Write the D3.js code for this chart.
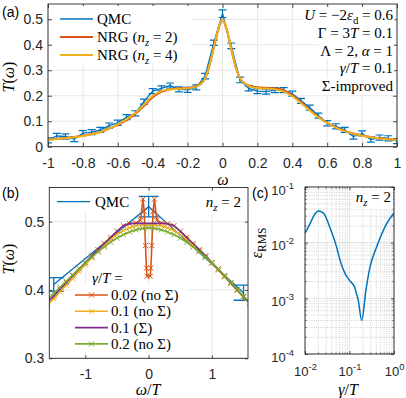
<!DOCTYPE html>
<html>
<head>
<meta charset="utf-8">
<script src="https://cdn.jsdelivr.net/npm/d3@7"></script>
<style>
  body { margin: 0; background: #fff; }
  svg { display: block; }
  text { white-space: pre; }
</style>
</head>
<body>
<div id="fig"></div>
<script>
// ---- data -------------------------------------------------------------
var T_temp = 0.1 / 3;   // Gamma = 3T = 0.1

// (a) QMC with error bars
var qmcW = [-1,-0.95,-0.9,-0.85,-0.8,-0.75,-0.7,-0.65,-0.6,-0.55,-0.5,-0.45,-0.4,-0.35,-0.3,-0.25,-0.2,-0.15,-0.1,-0.05,
            0,0.05,0.1,0.15,0.2,0.25,0.3,0.35,0.4,0.45,0.5,0.55,0.6,0.65,0.7,0.75,0.8,0.85,0.9,0.95,1];
var qmcT = [0.025,0.042,0.040,0.030,0.053,0.057,0.066,0.083,0.094,0.116,0.131,0.177,0.218,0.229,0.240,0.225,0.223,0.233,0.277,0.408,
            0.522,0.396,0.262,0.229,0.218,0.216,0.222,0.222,0.208,0.180,0.153,0.122,0.092,0.080,0.066,0.040,0.052,0.028,0.036,0.033,0.022];
var qmcErr = [0.010,0.010,0.010,0.010,0.010,0.010,0.010,0.010,0.010,0.010,0.010,0.010,0.010,0.010,0.010,0.010,0.010,0.010,0.011,0.010,
              0.015,0.011,0.011,0.010,0.010,0.010,0.010,0.010,0.010,0.010,0.010,0.010,0.010,0.010,0.010,0.010,0.010,0.010,0.010,0.010,0.010];

// (a) NRG curves
var nrgW = [-1,-0.95,-0.9,-0.85,-0.8,-0.75,-0.7,-0.65,-0.6,-0.55,-0.5,-0.45,-0.4,-0.35,-0.3,-0.25,-0.2,-0.15,-0.1,-0.075,-0.05,-0.025,
            0,0.025,0.05,0.075,0.1,0.15,0.2,0.25,0.3,0.35,0.4,0.45,0.5,0.55,0.6,0.65,0.7,0.75,0.8,0.85,0.9,0.95,1];
var nrg2 = [0.028,0.031,0.034,0.038,0.043,0.050,0.058,0.071,0.086,0.104,0.128,0.160,0.194,0.215,0.225,0.229,0.231,0.238,0.267,0.318,0.386,0.456,
            0.497,0.456,0.383,0.313,0.270,0.240,0.233,0.231,0.229,0.222,0.203,0.174,0.144,0.116,0.094,0.076,0.062,0.052,0.044,0.038,0.033,0.030,0.027];
var nrg4 = [0.027,0.030,0.033,0.037,0.042,0.049,0.057,0.072,0.088,0.108,0.132,0.165,0.200,0.218,0.225,0.227,0.229,0.236,0.267,0.320,0.390,0.460,
            0.500,0.460,0.386,0.315,0.270,0.238,0.230,0.228,0.225,0.217,0.198,0.171,0.142,0.115,0.093,0.075,0.061,0.051,0.043,0.037,0.033,0.029,0.026];

// (b) zoom around omega = 0, in units of T
var wT = [-1.6,-1.5,-1.4,-1.3,-1.2,-1.1,-1.0,-0.9,-0.8,-0.7,-0.6,-0.5,-0.4,-0.3,-0.2,-0.1,
          0,0.1,0.2,0.3,0.4,0.5,0.6,0.7,0.8,0.9,1.0,1.1,1.2,1.3,1.4,1.5,1.6];
var g01noS = [0.378,0.387,0.397,0.407,0.417,0.427,0.437,0.447,0.456,0.465,0.474,0.481,0.487,0.491,0.494,0.495,
              0.495,0.495,0.494,0.491,0.487,0.481,0.474,0.466,0.457,0.448,0.439,0.429,0.419,0.409,0.399,0.389,0.380];
var g01S   = [0.382,0.391,0.401,0.411,0.421,0.431,0.440,0.450,0.459,0.468,0.477,0.486,0.494,0.497,0.4975,0.4975,
              0.4975,0.4975,0.4975,0.497,0.494,0.486,0.477,0.468,0.459,0.450,0.440,0.430,0.420,0.410,0.400,0.390,0.381];
var g02noS = [0.386,0.395,0.404,0.413,0.422,0.431,0.440,0.448,0.456,0.463,0.470,0.476,0.481,0.485,0.488,0.490,
              0.491,0.490,0.488,0.485,0.481,0.476,0.470,0.463,0.456,0.448,0.440,0.431,0.421,0.411,0.401,0.391,0.381];
var g002W  = [-1.6,-1.5,-1.4,-1.3,-1.2,-1.1,-1.0,-0.9,-0.8,-0.7,-0.6,-0.5,-0.4,-0.3,-0.2,-0.13,-0.09,-0.07,-0.05,-0.035,-0.025,
              0.025,0.035,0.05,0.07,0.09,0.13,0.2,0.3,0.4,0.5,0.6,0.7,0.8,0.9,1.0,1.1,1.2,1.3,1.4,1.5,1.6];
var g002noS = [0.382,0.391,0.401,0.411,0.421,0.431,0.440,0.450,0.459,0.468,0.477,0.486,0.494,0.497,0.498,0.502,0.533,0.515,0.465,0.432,0.420,
               0.420,0.432,0.465,0.515,0.533,0.502,0.498,0.497,0.494,0.486,0.477,0.468,0.459,0.450,0.440,0.430,0.420,0.410,0.400,0.390,0.381];

// (c) RMS error vs gamma/T
var gamT = [0.01,0.013,0.016,0.02,0.026,0.036,0.051,0.061,0.079,0.1,0.13,0.144,0.157,0.188,0.234,0.29,0.41,0.685,1.0];
var epsRMS = [0.0148,0.022,0.031,0.037,0.034,0.019,0.0085,0.0049,0.0028,0.0021,0.0016,0.0012,0.00093,0.0004,0.0014,0.0037,0.0085,0.022,0.034];

var xTicksA = [-1,-0.8,-0.6,-0.4,-0.2,0,0.2,0.4,0.6,0.8,1];
var yTicksA = [0,0.1,0.2,0.3,0.4,0.5];
var xTicksB = [-1,0,1];
var yTicksB = [0.3,0.4,0.5];
var xTicksC = [0.01,0.1,1];
var yTicksC = [1e-4,1e-3,1e-2,1e-1];

// ---- style ------------------------------------------------------------
var C = { blue: "#0072BD", orange: "#D95319", yellow: "#EDB120", purple: "#7E2F8E", green: "#77AC30" };
var SANS = "'Liberation Sans', Arial, sans-serif";
var SERIF = "'Liberation Serif', 'DejaVu Serif', serif";
var GRID = "#e2e2e2";

var svg = d3.select("#fig").append("svg").attr("width", 406).attr("height", 398);

// tiny math-ish text: $...$ letters italic, _x / _{..} subscripts, ^ superscripts
function tex(sel, s) {
    var parts = [];
    s.split("$").forEach(function(seg, k) {
        if (k % 2 === 0) { if (seg) parts.push({ t: seg }); return; }
        var i = 0;
        while (i < seg.length) {
            var c = seg[i];
            if (c === "_" || c === "^") {
                var g, it;
                if (seg[i + 1] === "{") { var j = seg.indexOf("}", i); g = seg.slice(i + 2, j); i = j + 1; it = false; }
                else { g = seg[i + 1]; i += 2; it = /[A-Za-zα-ω]/.test(g); }
                parts.push({ t: g, i: it, sub: c === "_", sup: c === "^" });
                continue;
            }
            parts.push({ t: c, i: /[A-Za-zα-ω]/.test(c) });
            i++;
        }
    });
    var shift = 0;
    parts.forEach(function(p) {
        var s2 = p.sub ? 4 : p.sup ? -6 : 0;
        var ts = sel.append("tspan").text(p.t);
        if (s2 - shift !== 0) ts.attr("dy", s2 - shift);
        shift = s2;
        if (p.i) ts.attr("font-style", "italic");
        if (p.sub || p.sup) ts.attr("font-size", "0.72em");
    });
    return sel;
}

function whiteBehind(g, textSel, padX, padY) {
    var b = textSel.node().getBBox();
    g.insert("rect", function() { return textSel.node(); })
        .attr("x", b.x - padX).attr("y", b.y - padY)
        .attr("width", b.width + 2 * padX).attr("height", b.height + 2 * padY)
        .attr("fill", "#fff");
}

function boxAxes(g, x, y, tickLen, xt, yt, xfmt, yfmt, xpad, ypad) {
    var x0 = x.range()[0], x1 = x.range()[1], y0 = y.range()[0], y1 = y.range()[1];
    var bottom = g.append("g").attr("transform", "translate(0," + y0 + ")")
        .call(d3.axisBottom(x).tickValues(xt).tickSize(-tickLen).tickPadding(xpad).tickFormat(xfmt));
    var top = g.append("g").attr("transform", "translate(0," + y1 + ")")
        .call(d3.axisTop(x).tickValues(xt).tickSize(-tickLen).tickFormat(""));
    var left = g.append("g").attr("transform", "translate(" + x0 + ",0)")
        .call(d3.axisLeft(y).tickValues(yt).tickSize(-tickLen).tickPadding(ypad).tickFormat(yfmt));
    var right = g.append("g").attr("transform", "translate(" + x1 + ",0)")
        .call(d3.axisRight(y).tickValues(yt).tickSize(-tickLen).tickFormat(""));
    [bottom, top, left, right].forEach(function(a) {
        a.select(".domain").remove();
        a.selectAll("line").attr("stroke", "#262626").attr("stroke-width", 0.8);
        a.selectAll("text").attr("font-family", SANS).attr("font-size", 14).attr("fill", "#262626");
    });
    g.append("rect").attr("x", x0).attr("y", y1).attr("width", x1 - x0).attr("height", y0 - y1)
        .attr("fill", "none").attr("stroke", "#262626").attr("stroke-width", 0.9);
    return { bottom: bottom, left: left };
}

function grid(g, x, y, xt, yt, color, dash) {
    g.selectAll(null).data(xt).enter().append("line")
        .attr("x1", function(d) { return x(d); }).attr("x2", function(d) { return x(d); })
        .attr("y1", y.range()[0]).attr("y2", y.range()[1])
        .attr("stroke", color).attr("stroke-width", 0.8).attr("stroke-dasharray", dash || null);
    g.selectAll(null).data(yt).enter().append("line")
        .attr("y1", function(d) { return y(d); }).attr("y2", function(d) { return y(d); })
        .attr("x1", x.range()[0]).attr("x2", x.range()[1])
        .attr("stroke", color).attr("stroke-width", 0.8).attr("stroke-dasharray", dash || null);
}

function clipFor(id, x, y) {
    svg.append("clipPath").attr("id", id).append("rect")
        .attr("x", x.range()[0]).attr("y", y.range()[1])
        .attr("width", x.range()[1] - x.range()[0]).attr("height", y.range()[0] - y.range()[1]);
    return "url(#" + id + ")";
}

var cross = "M-2.6,-2.6L2.6,2.6M-2.6,2.6L2.6,-2.6";

function fmtNum(d) { return d3.format("~g")(d).replace("−", "-"); }

// ---- panel (a) --------------------------------------------------------
var xa = d3.scaleLinear().domain([-1, 1]).range([48, 397]);
var ya = d3.scaleLinear().domain([0, 0.56]).range([146.7, 4]);
var ga = svg.append("g");
grid(ga, xa, ya, xTicksA, yTicksA, GRID);

var da = ga.append("g").attr("clip-path", clipFor("clipA", xa, ya));
var qmc = qmcW.map(function(w, i) { return { w: w, t: qmcT[i], e: qmcErr[i] }; });

da.append("path").datum(qmc)
    .attr("d", d3.line().x(function(d) { return xa(d.w); }).y(function(d) { return ya(d.t); }))
    .attr("fill", "none").attr("stroke", C.blue).attr("stroke-width", 1.3);
var eb = da.selectAll(".eb").data(qmc).enter().append("g").attr("stroke", C.blue).attr("stroke-width", 1.2);
eb.append("line").attr("x1", function(d) { return xa(d.w); }).attr("x2", function(d) { return xa(d.w); })
    .attr("y1", function(d) { return ya(d.t - d.e); }).attr("y2", function(d) { return ya(d.t + d.e); });
eb.append("line").attr("x1", function(d) { return xa(d.w) - 4; }).attr("x2", function(d) { return xa(d.w) + 4; })
    .attr("y1", function(d) { return ya(d.t - d.e); }).attr("y2", function(d) { return ya(d.t - d.e); });
eb.append("line").attr("x1", function(d) { return xa(d.w) - 4; }).attr("x2", function(d) { return xa(d.w) + 4; })
    .attr("y1", function(d) { return ya(d.t + d.e); }).attr("y2", function(d) { return ya(d.t + d.e); });

var lineA = d3.line().x(function(d) { return xa(d[0]); }).y(function(d) { return ya(d[1]); }).curve(d3.curveMonotoneX);
[[nrg2, C.orange], [nrg4, C.yellow]].forEach(function(s) {
    da.append("path").datum(nrgW.map(function(w, i) { return [w, s[0][i]]; }))
        .attr("d", lineA).attr("fill", "none").attr("stroke", s[1]).attr("stroke-width", 2);
});

boxAxes(ga, xa, ya, 4, xTicksA, yTicksA, fmtNum, fmtNum, 11, 5);

// legend (a)
ga.append("rect").attr("x", 52).attr("y", 6).attr("width", 140).attr("height", 57).attr("fill", "#fff");
var legA = [["QMC", C.blue, 1.3], ["NRG ($n_z$ = 2)", C.orange, 2], ["NRG ($n_z$ = 4)", C.yellow, 2]];
legA.forEach(function(d, i) {
    var yy = 19 + i * 18;
    ga.append("line").attr("x1", 60).attr("x2", 93).attr("y1", yy).attr("y2", yy)
        .attr("stroke", d[1]).attr("stroke-width", d[2]);
    tex(ga.append("text").attr("x", 97).attr("y", yy + 5).attr("font-family", SERIF).attr("font-size", 15), d[0]);
});

// parameter text (a)
var parA = ["$U$ = −2$ε_{d}$ = 0.6", "Γ = 3$T$ = 0.1", "Λ = 2, $α$ = 1", "$γ/T$ = 0.1", "Σ-improved"];
parA.forEach(function(s, i) {
    var t = tex(ga.append("text").attr("x", 393).attr("y", 20 + i * 17.8).attr("text-anchor", "end")
        .attr("font-family", SERIF).attr("font-size", 15), s);
    whiteBehind(ga, t, 1, 0);
});

tex(ga.append("text").attr("x", 223).attr("y", 185).attr("text-anchor", "middle")
    .attr("font-family", SERIF).attr("font-size", 16), "$ω$");
tex(ga.append("text").attr("transform", "translate(14,77) rotate(-90)").attr("text-anchor", "middle")
    .attr("font-family", SERIF).attr("font-size", 16), "$T$($ω$)");
ga.append("text").attr("x", 2).attr("y", 17).attr("font-family", SANS).attr("font-size", 14).text("(a)");

// ---- panel (b) --------------------------------------------------------
var xb = d3.scaleLinear().domain([-1.57, 1.57]).range([49.3, 248]);
var yb = d3.scaleLinear().domain([0.3, 0.55]).range([358.3, 187.5]);
var gb = svg.append("g");
grid(gb, xb, yb, xTicksB, yTicksB, GRID);
var db = gb.append("g").attr("clip-path", clipFor("clipB", xb, yb));

var qmcB = qmc.map(function(d) { return { w: d.w / T_temp, t: d.t, e: d.e }; })
    .filter(function(d) { return Math.abs(d.w) < 1.6; });
db.append("path").datum(qmcB)
    .attr("d", d3.line().x(function(d) { return xb(d.w); }).y(function(d) { return yb(d.t); }))
    .attr("fill", "none").attr("stroke", C.blue).attr("stroke-width", 1.3);
var ebb = db.selectAll(".ebb").data(qmcB).enter().append("g").attr("stroke", C.blue).attr("stroke-width", 1.3);
ebb.append("line").attr("x1", function(d) { return xb(d.w); }).attr("x2", function(d) { return xb(d.w); })
    .attr("y1", function(d) { return yb(d.t - d.e); }).attr("y2", function(d) { return yb(d.t + d.e); });
[-1, 1].forEach(function(s) {
    ebb.append("line").attr("x1", function(d) { return xb(d.w) - 10; }).attr("x2", function(d) { return xb(d.w) + 10; })
        .attr("y1", function(d) { return yb(d.t + s * d.e); }).attr("y2", function(d) { return yb(d.t + s * d.e); });
});

var seriesB = [
    { x: g002W, y: g002noS, c: C.orange, m: true, label: "0.02 (no Σ)" },
    { x: wT, y: g01noS, c: C.yellow, m: true, label: "0.1 (no Σ)" },
    { x: wT, y: g01S, c: C.purple, m: false, label: "0.1 (Σ)" },
    { x: wT, y: g02noS, c: C.green, m: true, label: "0.2 (no Σ)" }
];
seriesB.forEach(function(s) {
    var pts = s.x.map(function(w, i) { return [w, s.y[i]]; });
    db.append("path").datum(pts)
        .attr("d", d3.line().x(function(d) { return xb(d[0]); }).y(function(d) { return yb(d[1]); }))
        .attr("fill", "none").attr("stroke", s.c).attr("stroke-width", 1.6);
    if (s.m) {
        db.selectAll(null).data(pts).enter().append("path")
            .attr("transform", function(d) { return "translate(" + xb(d[0]) + "," + yb(d[1]) + ")"; })
            .attr("d", cross).attr("stroke", s.c).attr("stroke-width", 1).attr("fill", "none");
    }
});

boxAxes(gb, xb, yb, 3, xTicksB, yTicksB, fmtNum, fmtNum, 11, 5);

// legends (b)
gb.append("rect").attr("x", 50).attr("y", 188).attr("width", 82).attr("height", 25).attr("fill", "#fff");
gb.append("line").attr("x1", 57).attr("x2", 90).attr("y1", 201.7).attr("y2", 201.7).attr("stroke", C.blue).attr("stroke-width", 1.3);
gb.append("text").attr("x", 95).attr("y", 207).attr("font-family", SERIF).attr("font-size", 15).text("QMC");
var nzb = tex(gb.append("text").attr("x", 241).attr("y", 207).attr("text-anchor", "end")
    .attr("font-family", SERIF).attr("font-size", 15), "$n_z$ = 2");
whiteBehind(gb, nzb, 2, 1);

tex(gb.append("text").attr("x", 92).attr("y", 283).attr("font-family", SERIF).attr("font-size", 15), "$γ/T$ =");
gb.append("rect").attr("x", 73).attr("y", 285).attr("width", 113).attr("height", 67).attr("fill", "#fff");
seriesB.forEach(function(s, i) {
    var yy = 295 + i * 16.3;
    gb.append("line").attr("x1", 75).attr("x2", 108).attr("y1", yy).attr("y2", yy).attr("stroke", s.c).attr("stroke-width", 1.6);
    if (s.m) gb.append("path").attr("transform", "translate(91.5," + yy + ")").attr("d", cross)
        .attr("stroke", s.c).attr("stroke-width", 1).attr("fill", "none");
    gb.append("text").attr("x", 111).attr("y", yy + 5).attr("font-family", SERIF).attr("font-size", 15).text(s.label);
});

tex(gb.append("text").attr("x", 148).attr("y", 395).attr("text-anchor", "middle")
    .attr("font-family", SERIF).attr("font-size", 16), "$ω/T$");
tex(gb.append("text").attr("transform", "translate(14,259) rotate(-90)").attr("text-anchor", "middle")
    .attr("font-family", SERIF).attr("font-size", 16), "$T$($ω$)");
gb.append("text").attr("x", 2).attr("y", 198).attr("font-family", SANS).attr("font-size", 14).text("(b)");

// ---- panel (c) --------------------------------------------------------
var xc = d3.scaleLog().domain([0.01, 1]).range([305, 394]);
var yc = d3.scaleLog().domain([1e-4, 1e-1]).range([354, 187]);
var gc = svg.append("g");
var minorX = xc.ticks().filter(function(d) { return xTicksC.indexOf(d) < 0; });
var minorY = yc.ticks().filter(function(d) { return yTicksC.indexOf(d) < 0; });
grid(gc, xc, yc, minorX, minorY, "#c8c8c8", "1,1.2");
grid(gc, xc, yc, xTicksC, yTicksC, "#dadada");

var dc = gc.append("g").attr("clip-path", clipFor("clipC", xc, yc));
dc.append("path").datum(gamT.map(function(g, i) { return [g, epsRMS[i]]; }))
    .attr("d", d3.line().x(function(d) { return xc(d[0]); }).y(function(d) { return yc(d[1]); }).curve(d3.curveMonotoneX))
    .attr("fill", "none").attr("stroke", C.blue).attr("stroke-width", 1.5);

var axC = boxAxes(gc, xc, yc, 3, xTicksC, yTicksC, function() { return ""; }, function() { return ""; }, 13, 11);
// minor ticks
[[minorX, true], [minorY, false]].forEach(function(m) {
    m[0].forEach(function(v) {
        if (m[1]) {
            gc.append("line").attr("x1", xc(v)).attr("x2", xc(v)).attr("y1", 354).attr("y2", 352.3).attr("stroke", "#262626").attr("stroke-width", 0.6);
            gc.append("line").attr("x1", xc(v)).attr("x2", xc(v)).attr("y1", 187).attr("y2", 188.7).attr("stroke", "#262626").attr("stroke-width", 0.6);
        } else {
            gc.append("line").attr("y1", yc(v)).attr("y2", yc(v)).attr("x1", 305).attr("x2", 306.7).attr("stroke", "#262626").attr("stroke-width", 0.6);
            gc.append("line").attr("y1", yc(v)).attr("y2", yc(v)).attr("x1", 394).attr("x2", 392.3).attr("stroke", "#262626").attr("stroke-width", 0.6);
        }
    });
});
axC.bottom.selectAll(".tick text").each(function(d) {
    tex(d3.select(this).attr("font-size", 13), "$10^{" + Math.round(Math.log10(d)) + "}$");
});
axC.left.selectAll(".tick text").each(function(d) {
    tex(d3.select(this).attr("font-size", 13).attr("dy", "0.55em"), "$10^{" + Math.round(Math.log10(d)) + "}$");
});

var nzc = tex(gc.append("text").attr("x", 391).attr("y", 202).attr("text-anchor", "end")
    .attr("font-family", SERIF).attr("font-size", 15), "$n_z$ = 2");
whiteBehind(gc, nzc, 2, 1);

tex(gc.append("text").attr("x", 348).attr("y", 395).attr("text-anchor", "middle")
    .attr("font-family", SERIF).attr("font-size", 16), "$γ/T$");
tex(gc.append("text").attr("transform", "translate(262,243) rotate(-90)").attr("text-anchor", "middle")
    .attr("font-family", SERIF).attr("font-size", 16), "$ε_{RMS}$");
gc.append("text").attr("x", 252).attr("y", 198).attr("font-family", SANS).attr("font-size", 14).text("(c)");
</script>
</body>
</html>
